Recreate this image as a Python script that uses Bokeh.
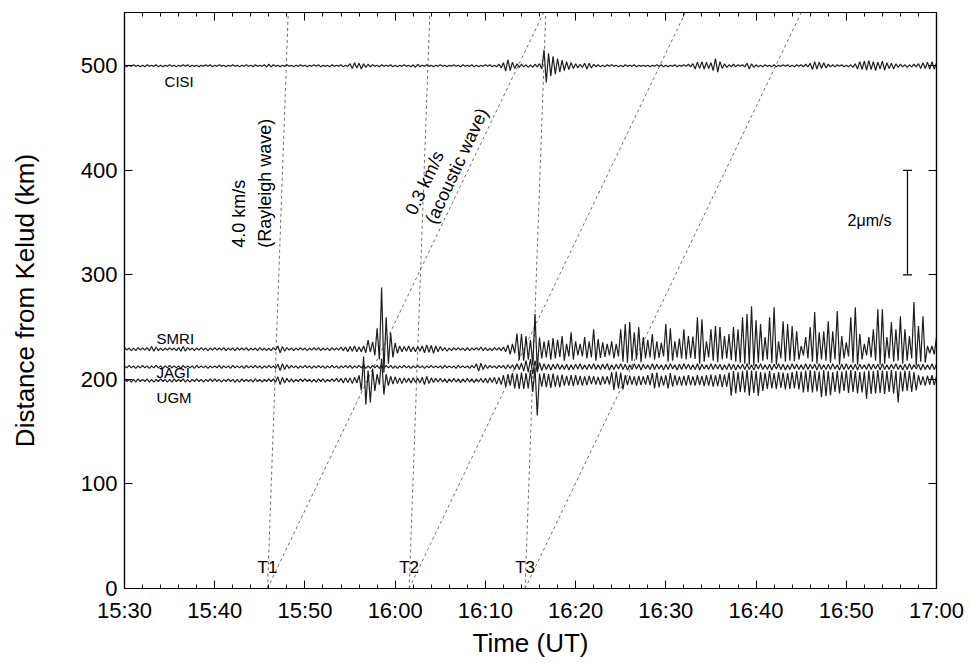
import numpy as np
from bokeh.plotting import figure
from bokeh.models import (FixedTicker, LinearAxis, Whisker, TeeHead, ColumnDataSource,
                          Range1d, Label)
from bokeh.embed import file_html
from bokeh.resources import INLINE

# ---------------- data ----------------
TRACE_START_UT = "15:30"
SAMPLE_SECONDS = 15
STATIONS = ["CISI", "SMRI", "JAGI", "UGM"]
DISTANCES_KM = [500, 229, 212, 199]
KM_PER_UMS = 50.0          # 2 um/s scale bar spans 100 km
VEL_UNIT_UMS = 0.01        # trace values below are in 0.01 um/s

CISI = [
    2,-2,1,-1, 2,-1,1,-2, 1,-2,2,-1, 1,-1,2,-2, 1,-2,1,-1,
    2,-1,1,-2, 1,-1,2,-1, 2,-2,1,-1, 1,-2,1,-1, 2,-1,2,-2,
    1,-1,2,-1, 1,-2,1,-1, 2,-1,1,-2, 1,-1,2,-1, 1,-2,2,-1,
    1,-1,2,-2, 3,-2,2,-1, 1,-2,1,-1, 2,-1,1,-2, 1,-1,2,-1,
    1,-2,1,-1, 2,-1,2,-2, 1,-1,1,-2, 2,-1,1,-1, 2,-2,1,-1,
    4,-5,6,-4, 5,-6,4,-3, 3,-2,2,-1, 1,-2,2,-1, 1,-1,2,-2,
    1,-2,1,-1, 2,-1,1,-2, 2,-3,3,-2, 1,-1,2,-1, 1,-2,1,-1,
    2,-1,1,-2, 1,-1,2,-1, 1,-2,2,-1, 1,-1,2,-2, 1,-2,1,-1,
    2,-1,2,-2, 1,-2,3,-4, 6,-10,12,-9, 7,-5,4,-3, 3,-2,2,-3,
    2,-3,3,-2, 4,-6,30,-32, 24,-20,18,-16, 14,-12,11,-9, 8,-7,6,-5,
    4,-4,3,-3, 5,-6,5,-4, 3,-2,2,-2, 1,-2,2,-1, 2,-1,1,-2,
    1,-2,2,-1, 1,-1,2,-2, 1,-1,1,-1, 1,-2,1,-1, 2,-1,2,-2,
    1,-2,1,-1, 2,-2,1,-1, 2,-1,3,-2, 4,-6,7,-5, 8,-6,7,-5,
    6,-9,14,-12, 8,-5,4,-3, 2,-2,3,-2, 2,-1,2,-2, 5,-6,4,-3,
    2,-2,1,-2, 2,-1,1,-2, 2,-2,1,-1, 2,-1,2,-2, 1,-2,2,-1,
    2,-2,3,-2, 5,-7,8,-6, 7,-5,6,-4, 3,-2,2,-2, 2,-1,2,-2,
    1,-2,2,-3, 4,-6,8,-7, 9,-8,10,-7, 8,-9,7,-6, 9,-8,6,-5,
    5,-6,4,-3, 3,-2,2,-3, 2,-2,3,-2, 4,-5,6,-5, 7,-6,8,-6,
    5,
]

SMRI = [
    3,-2,2,-3, 2,-3,3,-2, 2,-2,3,-3, 5,-4,4,-3, 2,-3,2,-2,
    3,-2,2,-3, 3,-4,5,-4, 3,-2,2,-3, 2,-2,3,-2, 2,-3,2,-2,
    3,-2,2,-2, 3,-3,2,-2, 2,-3,3,-2, 2,-2,3,-3, 2,-2,2,-3,
    3,-2,2,-3, 2,-3,3,-2, 6,-7,5,-4, 3,-2,2,-3, 2,-2,3,-2,
    2,-3,2,-2, 3,-2,3,-3, 2,-2,2,-3, 3,-2,2,-2, 4,-3,4,-5,
    5,-4,6,-5, 4,-5,6,-7, 17,-6,14,-12, 40,-20,118,-45, 61,-28,31,-16,
    12,-8,6,-5, 5,-4,6,-5, 4,-5,5,-4, 6,-7,8,-6, 7,-8,6,-5,
    5,-3,3,-4, 2,-3,3,-2, 3,-2,2,-3, 3,-3,2,-2, 3,-2,4,-3,
    3,-3,2,-3, 3,-2,3,-3, 4,-5,8,-10, 10,-8,30,-21, 29,-22,25,-20,
    18,-30,67,-40, 22,-18,15,-16, 17,-20,21,-18, 18,-15,25,-22, 10,-14,32,-20,
    15,-12,10,-14, 23,-18,15,-16, 38,-22,19,-17, 13,-15,10,-12, 15,-18,10,-14,
    38,-24,48,-26, 52,-22,32,-20, 42,-25,23,-18, 18,-16,29,-20, 15,-17,12,-14,
    48,-24,40,-22, 15,-16,20,-18, 38,-20,25,-17, 24,-19,61,-28, 57,-24,15,-16,
    38,-22,44,-25, 42,-20,25,-18, 29,-21,42,-24, 38,-26,61,-28, 67,-30,82,-32,
    55,-26,48,-22, 23,-20,61,-27, 80,-30,15,-18, 53,-24,48,-22, 44,-23,34,-20,
    6,-12,23,-18, 42,-24,71,-28, 32,-20,34,-22, 53,-26,34,-20, 73,-30,25,-18,
    13,-14,61,-26, 80,-30,29,-20, 10,-12,23,-16, 38,-22,76,-30, 76,-28,23,-18,
    52,-24,38,-22, 63,-28,38,-22, 25,-18,90,-32, 44,-24,63,-26, 6,-8,6,-10,
    23,
]

JAGI = [
    2,-2,3,-2, 2,-3,2,-2, 3,-2,2,-3, 2,-2,3,-2, 2,-3,2,-2,
    3,-2,2,-2, 2,-3,3,-2, 2,-2,2,-3, 3,-2,2,-2, 2,-3,2,-2,
    2,-2,3,-3, 2,-2,2,-3, 3,-2,2,-2, 2,-3,3,-2, 2,-2,3,-2,
    2,-3,2,-2, 3,-2,2,-3, 5,-7,6,-5, 4,-3,3,-2, 2,-3,2,-2,
    3,-2,2,-3, 2,-2,3,-2, 2,-3,2,-2, 3,-2,2,-3, 2,-2,3,-2,
    3,-3,2,-2, 3,-2,3,-3, 2,-3,3,-2, 3,-3,4,-3, 3,-2,3,-3,
    2,-3,2,-2, 3,-2,2,-3, 2,-2,3,-2, 2,-3,2,-2, 3,-2,2,-2,
    2,-3,3,-2, 2,-2,2,-3, 3,-2,2,-2, 2,-3,3,-2, 6,-8,7,-5,
    4,-3,3,-2, 2,-3,3,-2, 3,-4,4,-3, 4,-5,6,-5, 7,-8,12,-10,
    15,-14,12,-10, 8,-7,6,-5, 5,-6,5,-4, 6,-5,4,-5, 5,-6,4,-5,
    5,-4,6,-5, 4,-5,5,-4, 6,-5,4,-5, 5,-4,6,-6, 4,-5,5,-4,
    6,-5,5,-6, 4,-5,6,-4, 5,-6,5,-4, 4,-5,6,-5, 5,-4,4,-6,
    5,-5,6,-4, 4,-6,5,-5, 6,-4,5,-5, 4,-5,6,-6, 5,-4,4,-5,
    6,-5,5,-4, 5,-6,4,-5, 6,-5,5,-6, 4,-4,5,-5, 6,-5,4,-6,
    5,-4,6,-5, 4,-5,5,-6, 5,-4,6,-5, 5,-6,4,-5, 6,-4,5,-5,
    4,-5,6,-5, 5,-4,5,-6, 6,-5,4,-5, 5,-5,6,-4, 4,-6,5,-5,
    6,-5,4,-5, 5,-6,5,-4, 4,-5,6,-5, 5,-4,5,-6, 6,-5,4,-5,
    5,-4,6,-5, 4,-6,5,-5, 6,-5,4,-4, 5,-6,5,-5, 4,-5,6,-5,
    5,
]

UGM = [
    3,-2,2,-3, 2,-3,3,-2, 2,-2,3,-3, 2,-3,2,-2, 3,-2,2,-3,
    2,-3,3,-2, 2,-2,3,-3, 2,-3,2,-2, 3,-2,2,-3, 2,-2,3,-2,
    3,-2,2,-3, 2,-2,3,-2, 2,-3,2,-3, 3,-2,2,-2, 2,-3,3,-2,
    2,-3,2,-2, 3,-2,3,-3, 7,-8,6,-5, 4,-3,3,-3, 2,-2,3,-2,
    3,-2,2,-3, 2,-3,3,-2, 3,-3,2,-2, 3,-2,4,-3, 4,-5,5,-4,
    5,-6,6,-5, 10,-19,46,-46, 19,-42,23,-20, 12,-8,42,-27, 12,-10,8,-7,
    7,-6,5,-6, 5,-4,4,-5, 5,-4,4,-5, 6,-8,8,-6, 5,-4,4,-3,
    4,-3,3,-4, 3,-3,4,-3, 3,-4,3,-3, 4,-3,3,-4, 3,-3,4,-4,
    4,-5,5,-4, 6,-7,6,-8, 10,-12,12,-10, 14,-15,13,-16, 15,-16,14,-15,
    20,-22,25,-67, 13,-12,14,-13, 12,-14,13,-12, 10,-13,11,-10, 9,-10,10,-11,
    10,-9,9,-10, 8,-9,9,-7, 8,-8,7,-9, 8,-7,8,-8, 16,-18,17,-15,
    15,-17,10,-9, 9,-8,8,-10, 9,-9,8,-8, 10,-9,14,-15, 15,-13,9,-10,
    10,-15,14,-12, 10,-9,8,-10, 9,-10,10,-9, 8,-10,10,-9, 9,-11,10,-10,
    11,-12,10,-11, 12,-13,11,-12, 15,-29,18,-25, 16,-22,18,-23, 20,-29,19,-24,
    18,-29,16,-20, 15,-16,18,-15, 14,-16,16,-14, 15,-17,14,-16, 16,-15,18,-17,
    17,-23,19,-22, 20,-23,18,-21, 17,-32,20,-30, 18,-28,16,-22, 18,-25,17,-20,
    19,-24,20,-22, 18,-25,16,-23, 17,-35,19,-26, 18,-25,20,-24, 19,-26,18,-22,
    20,-25,18,-42, 17,-21,19,-20, 18,-22,16,-19, 10,-9,8,-10, 9,-8,10,-9,
    8,
]

TRACES = [CISI, SMRI, JAGI, UGM]

ONSET_NAMES = ["T1", "T2", "T3"]
ONSET_TIMES_UT = ["15:45:51", "16:01:33", "16:14:24"]
WAVE_SPEEDS_KMS = [4.0, 0.3]          # Rayleigh, acoustic
X_TICK_LABELS = ["15:30", "15:40", "15:50", "16:00", "16:10", "16:20",
                 "16:30", "16:40", "16:50", "17:00"]
Y_TICKS_KM = [0, 100, 200, 300, 400, 500]
SCALE_BAR_UMS = 2.0
SCALE_BAR_BASE_KM = 300
SCALE_BAR_TIME_UT = "16:56:47"


def to_min(s):
    parts = [float(v) for v in s.split(":")]
    while len(parts) < 3:
        parts.append(0.0)
    return parts[0] * 60 + parts[1] + parts[2] / 60.0


# ---------------- figure ----------------
FONT = "Liberation Sans"
x0 = to_min(X_TICK_LABELS[0])
x1 = to_min(X_TICK_LABELS[-1])
YMAX = 551

p = figure(width=970, height=663, output_backend="svg", toolbar_location=None,
           x_range=Range1d(x0, x1), y_range=Range1d(0, YMAX),
           min_border_left=124, min_border_right=34, min_border_top=12,
           min_border_bottom=75)
p.xgrid.visible = False
p.ygrid.visible = False
p.outline_line_color = "black"
p.outline_line_width = 1.2
p.background_fill_color = "white"
p.border_fill_color = "white"

major_x = [to_min(s) for s in X_TICK_LABELS]
minor_x = list(np.arange(x0, x1 + 0.001, 2.0))


def style_axis(ax, show_labels):
    ax.major_tick_in = 8
    ax.major_tick_out = 0
    ax.minor_tick_in = 4
    ax.minor_tick_out = 0
    ax.axis_line_color = "black"
    ax.axis_line_width = 1.2
    ax.major_tick_line_color = "black"
    ax.minor_tick_line_color = "black"
    ax.major_label_text_font = FONT
    ax.axis_label_text_font = FONT
    ax.axis_label_text_font_style = "normal"
    ax.axis_label_text_color = "black"
    if show_labels:
        ax.major_label_text_color = "black"
        ax.major_label_text_font_size = "22px"
        ax.axis_label_text_font_size = "26px"
    else:
        ax.major_label_text_color = None
        ax.major_label_text_font_size = "8px"
        ax.major_label_standoff = 0


xa = p.xaxis[0]
xa.ticker = FixedTicker(ticks=major_x, minor_ticks=minor_x)
xa.major_label_overrides = {t: s for t, s in zip(major_x, X_TICK_LABELS)}
xa.axis_label = "Time (UT)"
style_axis(xa, True)
xa.major_label_standoff = 9
xa.axis_label_standoff = 2

ya = p.yaxis[0]
ya.ticker = FixedTicker(ticks=Y_TICKS_KM, minor_ticks=[])
ya.axis_label = "Distance from Kelud (km)"
style_axis(ya, True)
ya.major_label_standoff = 7
ya.axis_label_standoff = 38

top = LinearAxis(ticker=FixedTicker(ticks=major_x, minor_ticks=minor_x))
style_axis(top, False)
p.add_layout(top, "above")
right = LinearAxis(ticker=FixedTicker(ticks=Y_TICKS_KM, minor_ticks=[]))
style_axis(right, False)
p.add_layout(right, "right")

# travel-time lines
for tname, tut in zip(ONSET_NAMES, ONSET_TIMES_UT):
    t0 = to_min(tut)
    for v in WAVE_SPEEDS_KMS:
        t_end = t0 + YMAX / v / 60.0
        p.line([t0, t_end], [0, YMAX], line_color="#6e6e6e", line_width=1,
               line_dash="3 3")
    p.add_layout(Label(x=t0, y=20, text=tname, text_align="center",
                       text_baseline="middle", text_font=FONT,
                       text_font_size="17px", text_color="black"))

# seismograms
t_start = to_min(TRACE_START_UT)
for vals, dist in zip(TRACES, DISTANCES_KM):
    arr = np.array(vals, dtype=float)
    xs = t_start + np.arange(len(arr)) * SAMPLE_SECONDS / 60.0
    ys = dist + arr * VEL_UNIT_UMS * KM_PER_UMS
    p.line(xs, ys, line_color="#1e1e1e", line_width=1.2)

# station labels
label_pos = {"CISI": (4.44, -15.3), "SMRI": (3.56, 9.8),
             "JAGI": (3.56, -5.8), "UGM": (3.56, -16.2)}
for name, dist in zip(STATIONS, DISTANCES_KM):
    dx, dy = label_pos[name]
    p.add_layout(Label(x=t_start + dx, y=dist + dy, text=name,
                       text_align="left", text_baseline="middle",
                       text_font=FONT, text_font_size="15px",
                       text_color="black"))

# wave annotations
ann = [("4.0 km/s", 12.67, 326, 90), ("(Rayleigh wave)", 15.56, 326, 90),
       ("0.3 km/s", 31.67, 358.5, 65), ("(acoustic wave)", 33.9, 350, 65)]
for txt, dx, yk, ang in ann:
    p.add_layout(Label(x=t_start + dx, y=yk, text=txt, angle=ang,
                       angle_units="deg", text_align="left",
                       text_baseline="middle", text_font=FONT,
                       text_font_size="18px", text_color="black"))

# scale bar
xb = to_min(SCALE_BAR_TIME_UT)
bar_top = SCALE_BAR_BASE_KM + SCALE_BAR_UMS * KM_PER_UMS
wsrc = ColumnDataSource(dict(base=[xb], lower=[SCALE_BAR_BASE_KM], upper=[bar_top]))
p.add_layout(Whisker(source=wsrc, base="base", lower="lower", upper="upper",
                     dimension="height", line_color="black", line_width=1.2,
                     upper_head=TeeHead(size=9, line_color="black", line_width=1.2),
                     lower_head=TeeHead(size=9, line_color="black", line_width=1.2)))
p.add_layout(Label(x=xb, y=(SCALE_BAR_BASE_KM + bar_top) / 2 + 2, x_offset=-16,
                   text="2\u03bcm/s", text_align="right", text_baseline="middle",
                   text_font=FONT, text_font_size="16px", text_color="black"))

open("out.html", "w").write(file_html(p, INLINE))
